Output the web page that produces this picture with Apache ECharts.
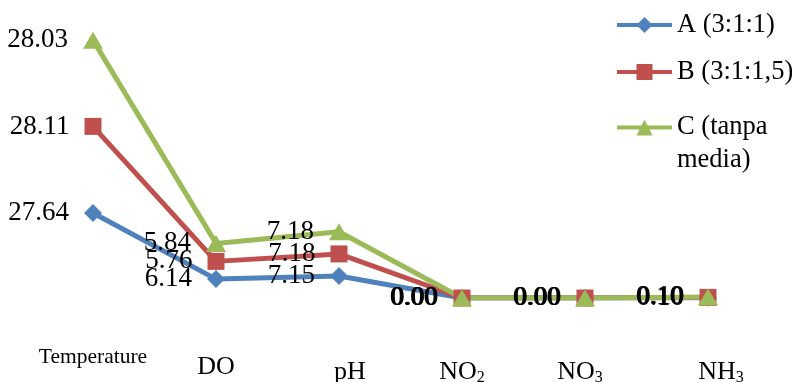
<!DOCTYPE html>
<html>
<head>
<meta charset="utf-8">
<script src="https://cdn.jsdelivr.net/npm/echarts@6/dist/echarts.min.js"></script>
<style>
html, body { margin: 0; padding: 0; background: #fff; }
#main { width: 792px; height: 382px; }
</style>
</head>
<body>
<div id="main"></div>
<script>
var categories = ['Temperature', 'DO', 'pH', 'NO2', 'NO3', 'NH3'];
var seriesNames = ['A (3:1:1)', 'B (3:1:1,5)', 'C (tanpa media)'];
var valuesA = [27.64, 6.14, 7.15, 0.00, 0.00, 0.10];
var valuesB = [28.11, 5.76, 7.18, 0.00, 0.00, 0.10];
var valuesC = [28.03, 5.84, 7.18, 0.00, 0.00, 0.10];

var colors = ['#4F81BD', '#C0504D', '#9BBB59'];
var font = 'Liberation Serif';

var myChart = echarts.init(document.getElementById('main'));

// axis label look, one rich style per category
var labelText = {
    'Temperature': '{t|Temperature}',
    'DO': '{d|DO}',
    'pH': '{p|pH}',
    'NO2': '{n|NO}{s|2}',
    'NO3': '{n|NO}{r|3}',
    'NH3': '{m|NH}{s|3}'
};

function makeSeries(name, data, symbol, size, color) {
    return {
        name: name,
        type: 'line',
        stack: 'total',
        data: data,
        symbol: symbol,
        symbolSize: size,
        color: color,
        lineStyle: { width: 5, color: color },
        itemStyle: { color: color },
        label: {
            show: true,
            position: 'left',
            distance: 15,
            color: '#000',
            fontFamily: font,
            fontSize: 27,
            formatter: function (p) { return p.value.toFixed(2); }
        }
    };
}

var legendText = { fontFamily: font, fontSize: 26.5, lineHeight: 28, color: '#000' };

option = {
    animation: false,
    textStyle: { fontFamily: font },
    legend: [
        {
            orient: 'vertical',
            left: 615,
            top: 11,
            padding: 0,
            itemGap: 19,
            itemWidth: 55,
            itemHeight: 20,
            lineStyle: { width: 4 },
            textStyle: legendText,
            data: [seriesNames[0], seriesNames[1]]
        },
        {
            orient: 'vertical',
            left: 615,
            top: 81,
            padding: 0,
            itemWidth: 55,
            itemHeight: 20,
            lineStyle: { width: 4 },
            // blank first line keeps the icon level with "C (tanpa"
            formatter: function () { return '{e| }\n{a|C (tanpa}\n{a|media)}'; },
            textStyle: {
                fontFamily: font, fontSize: 26.5, color: '#000',
                rich: {
                    e: { fontFamily: font, fontSize: 26.5, lineHeight: 33 },
                    a: { fontFamily: font, fontSize: 26.5, lineHeight: 33 }
                }
            },
            data: [seriesNames[2]]
        }
    ],
    grid: { left: 31.5, right: 22.5, top: 21, bottom: 84, outerBoundsMode: 'none' },
    xAxis: {
        type: 'category',
        data: categories,
        boundaryGap: true,
        axisLine: { show: false },
        axisTick: { show: false },
        axisLabel: {
            interval: 0,
            margin: 38,
            color: '#000',
            fontFamily: font,
            formatter: function (v) { return labelText[v]; },
            rich: {
                t: { fontFamily: font, fontSize: 21.5, lineHeight: 42 },
                d: { fontFamily: font, fontSize: 26, lineHeight: 62 },
                p: { fontFamily: font, fontSize: 26, lineHeight: 72, padding: [0, 0, 0, 22] },
                n: { fontFamily: font, fontSize: 26, lineHeight: 72 },
                m: { fontFamily: font, fontSize: 26, lineHeight: 72, padding: [0, 0, 0, 26] },
                s: { fontFamily: font, fontSize: 16, lineHeight: 60, padding: [12, 0, 0, 0] },
                r: { fontFamily: font, fontSize: 16, lineHeight: 60, padding: [12, 10, 0, 0] }
            }
        }
    },
    yAxis: {
        type: 'value',
        min: 0,
        max: 90,
        show: false,
        splitLine: { show: false }
    },
    series: [
        makeSeries(seriesNames[0], valuesA, 'diamond', 18, colors[0]),
        makeSeries(seriesNames[1], valuesB, 'rect', 17, colors[1]),
        makeSeries(seriesNames[2], valuesC, 'triangle', [20, 17], colors[2])
    ]
};
myChart.setOption(option);
</script>
</body>
</html>
